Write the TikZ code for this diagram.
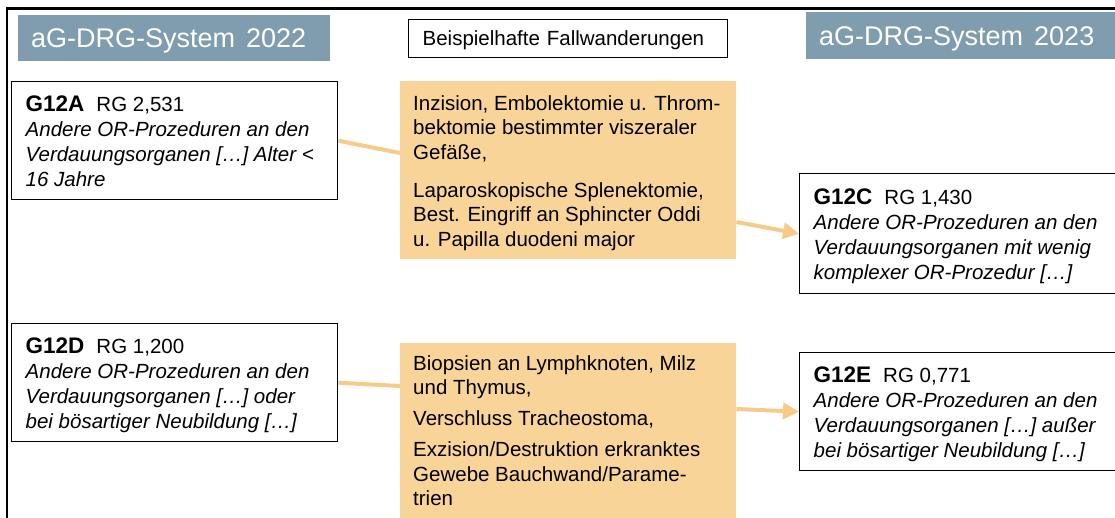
\documentclass[tikz,border=0pt]{standalone}
\usepackage{fontspec}
\setmainfont{Liberation Sans}
\usetikzlibrary{arrows.meta,calc}
\definecolor{hdrblue}{RGB}{128,156,175}
\definecolor{gold}{RGB}{248,212,152}
\definecolor{goldline}{RGB}{247,203,135}
\pgfdeclarelayer{bg}
\pgfsetlayers{bg,main}

\begin{document}
\begin{tikzpicture}[x=1pt,y=-1pt,
  hdr/.style={fill=hdrblue, text=white, anchor=north west, inner xsep=13pt,
    inner ysep=0pt, align=left, font=\fontsize{27}{30}\selectfont},
  titlebox/.style={draw=black, line width=1.3pt, fill=white, anchor=north west,
    inner xsep=14pt, inner ysep=0pt, align=left, text width=291pt,
    text height=26pt, text depth=12pt, font=\fontsize{20.5}{24}\selectfont},
  drg/.style={draw=black, line width=1.4pt, fill=white, anchor=north west,
    inner xsep=14pt, inner ysep=0pt, font=\fontsize{20.5}{25}\selectfont},
  proc/.style={fill=gold, anchor=north west, inner xsep=13pt, inner ysep=0pt,
    font=\fontsize{20.5}{24.5}\selectfont},
  link/.style={draw=goldline, line width=4pt},
  linkarrow/.style={link, -{Triangle[length=16pt,width=16pt]}}
]
\useasboundingbox (0,0) rectangle (1115,517);
\clip (0,0) rectangle (1115,517);

% outer frame (runs off the right and bottom edges)
\draw[line width=2.6pt] (7,540) -- (7,8.5) -- (1140,8.5);

% column headers
\node[hdr, text width=286pt, text height=32pt, text depth=14pt] (h22) at (18,15)
  {aG-DRG-System\hspace{11pt}2022};
\node[hdr, text width=300pt, text height=33pt, text depth=14pt] (h23) at (806,12)
  {aG-DRG-System\hspace{11pt}2023};
\node[titlebox] (title) at (408,19) {Beispielhafte Fallwanderungen};

% DRGs 2022
\node[drg] (A) at (11,81) {\parbox[c][118pt][t]{298pt}{%
  \rule{0pt}{30pt}{\fontsize{22.5}{25}\selectfont\bfseries G12A}\hspace{12pt}RG 2,531\\
  \itshape Andere OR-Prozeduren an den\\
  Verdauungsorganen […] Alter <\\
  16 Jahre}};
\node[drg] (D) at (11,323) {\parbox[c][118pt][t]{298pt}{%
  \rule{0pt}{30pt}{\fontsize{22.5}{25}\selectfont\bfseries G12D}\hspace{12pt}RG 1,200\\
  \itshape Andere OR-Prozeduren an den\\
  Verdauungsorganen […] oder\\
  bei bösartiger Neubildung […]}};

% DRGs 2023
\node[drg] (C) at (799,173) {\parbox[c][120pt][t]{298pt}{%
  \rule{0pt}{31pt}{\fontsize{22.5}{25}\selectfont\bfseries G12C}\hspace{12pt}RG 1,430\\
  \itshape Andere OR-Prozeduren an den\\
  Verdauungsorganen mit wenig\\
  komplexer OR-Prozedur […]}};
\node[drg] (E) at (799,352) {\parbox[c][118pt][t]{298pt}{%
  \rule{0pt}{30pt}{\fontsize{22.5}{25}\selectfont\bfseries G12E}\hspace{12pt}RG 0,771\\
  \itshape Andere OR-Prozeduren an den\\
  Verdauungsorganen […] außer\\
  bei bösartiger Neubildung […]}};

% procedures causing the regrouping
\node[proc] (P1) at (400,81) {\parbox[c][178pt][t]{310pt}{%
  \rule{0pt}{29pt}Inzision, Embolektomie u. Throm-\\
  bektomie bestimmter viszeraler\\
  Gefäße,\\[13.5pt]
  Laparoskopische Splenektomie,\\
  Best. Eingriff an Sphincter Oddi\\
  u. Papilla duodeni major}};
\node[proc] (P2) at (400,343) {\parbox[c][200pt][t]{310pt}{%
  \rule{0pt}{27pt}Biopsien an Lymphknoten, Milz\\
  und Thymus,\\[6.5pt]
  Verschluss Tracheostoma,\\[6.5pt]
  Exzision/Destruktion erkranktes\\
  Gewebe Bauchwand/Parame-\\
  trien}};

% case migrations
\begin{pgfonlayer}{bg}
  \draw[link] (A.east) -- ($(P1.north west)+(0,72)$);
  \draw[linkarrow] ($(P1.north east)+(0,141)$) -- (C.west);
  \draw[link] (D.east) -- ($(P2.north west)+(0,43)$);
  \draw[linkarrow] ($(P2.north east)+(0,66)$) -- (E.west);
\end{pgfonlayer}
\end{tikzpicture}
\end{document}
